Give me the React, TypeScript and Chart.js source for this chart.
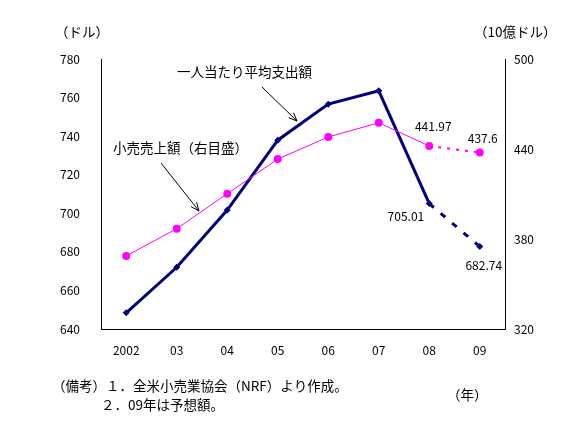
import React, { useEffect, useRef } from "react";
import { Chart, registerables } from "chart.js";

Chart.register(...registerables);

// Years on the x axis (2009 is a forecast)
const years = ["2002", "03", "04", "05", "06", "07", "08", "09"];
// Average spending per person (USD, left axis)
const perCapitaSpending = [648.4, 672.0, 701.7, 737.9, 756.6, 763.5, 705.01, 682.74];
// Retail sales (billion USD, right axis)
const retailSales = [368.7, 386.9, 410.2, 433.3, 448.0, 457.5, 441.97, 437.6];

const FONT = "'Noto Sans CJK JP', 'Noto Sans', sans-serif";
const NAVY = "#000080";
const MAGENTA = "#FF00FF";

function arrow(ctx: CanvasRenderingContext2D, x0: number, y0: number, x1: number, y1: number) {
  ctx.save();
  ctx.strokeStyle = "#000";
  ctx.lineWidth = 1;
  ctx.beginPath();
  ctx.moveTo(x0, y0);
  ctx.lineTo(x1, y1);
  const a = Math.atan2(y1 - y0, x1 - x0);
  const len = 9;
  ctx.moveTo(x1, y1);
  ctx.lineTo(x1 - len * Math.cos(a - 0.4), y1 - len * Math.sin(a - 0.4));
  ctx.moveTo(x1, y1);
  ctx.lineTo(x1 - len * Math.cos(a + 0.4), y1 - len * Math.sin(a + 0.4));
  ctx.stroke();
  ctx.restore();
}

const annotations = {
  id: "annotations",
  afterDraw(chart: any) {
    const ctx: CanvasRenderingContext2D = chart.ctx;
    const x = chart.scales.x;
    const yL = chart.scales.yL;
    const yR = chart.scales.yR;
    ctx.save();
    ctx.fillStyle = "#000";
    ctx.textBaseline = "middle";
    ctx.textAlign = "left";

    // axis units and series names
    ctx.font = `13.5px ${FONT}`;
    ctx.fillText("（ドル）", 55, 32);
    ctx.fillText("（10億ドル）", 474, 32);
    ctx.fillText("（年）", 447, 395);
    ctx.fillText("一人当たり平均支出額", 177, 72);
    ctx.fillText("小売売上額（右目盛）", 113, 148);
    arrow(ctx, 262, 87, 297, 121);
    arrow(ctx, 161, 163, 199, 211);

    // footnotes
    ctx.fillText("（備考）１．全米小売業協会（NRF）より作成。", 52, 386);
    ctx.fillText("２．09年は予想額。", 101, 405);

    // value labels on the last two points
    ctx.font = `12px ${FONT}`;
    const n = years.length;
    const lbl = (v: number) => String(v);
    ctx.textAlign = "center";
    ctx.fillText(lbl(retailSales[n - 2]), x.getPixelForValue(n - 2) + 4, yR.getPixelForValue(retailSales[n - 2]) - 20);
    ctx.fillText(lbl(retailSales[n - 1]), x.getPixelForValue(n - 1) + 3, yR.getPixelForValue(retailSales[n - 1]) - 14);
    ctx.textAlign = "right";
    ctx.fillText(lbl(perCapitaSpending[n - 2]), x.getPixelForValue(n - 2) - 5, yL.getPixelForValue(perCapitaSpending[n - 2]) + 13);
    ctx.textAlign = "center";
    ctx.fillText(lbl(perCapitaSpending[n - 1]), x.getPixelForValue(n - 1) + 4, yL.getPixelForValue(perCapitaSpending[n - 1]) + 19);
    ctx.restore();
  },
};

export default function App() {
  const ref = useRef<HTMLCanvasElement>(null);

  useEffect(() => {
    const lastSeg = (ctx: any) => ctx.p1DataIndex === years.length - 1;
    const chart = new Chart(ref.current!, {
      type: "line",
      data: {
        labels: years,
        datasets: [
          {
            label: "小売売上額（右目盛）",
            data: retailSales,
            yAxisID: "yR",
            borderColor: MAGENTA,
            backgroundColor: MAGENTA,
            borderWidth: 1,
            pointStyle: "circle",
            pointRadius: 4,
            pointBorderWidth: 0,
            segment: { borderDash: (c: any) => (lastSeg(c) ? [3, 6] : undefined), borderWidth: (c: any) => (lastSeg(c) ? 2 : undefined) } as any,
          },
          {
            label: "一人当たり平均支出額",
            data: perCapitaSpending,
            yAxisID: "yL",
            borderColor: NAVY,
            backgroundColor: NAVY,
            borderWidth: 3,
            pointStyle: "rectRot",
            pointRadius: 3.5,
            pointBorderWidth: 0,
            segment: { borderDash: (c: any) => (lastSeg(c) ? [6, 9] : undefined) } as any,
          },
        ],
      },
      options: {
        animation: false,
        responsive: false,
        events: [],
        layout: { padding: { top: 59, left: 0, right: 0, bottom: 0 } },
        plugins: { legend: { display: false }, tooltip: { enabled: false } },
        scales: {
          x: {
            type: "category",
            offset: true,
            grid: { display: false, drawTicks: false },
            border: { display: true, color: "#000", width: 1 },
            ticks: { color: "#000", font: { family: FONT, size: 12 }, padding: 14, maxRotation: 0 },
            afterFit: (s: any) => { s.height = 103; },
          },
          yL: {
            type: "linear",
            position: "left",
            min: 640,
            max: 780,
            grid: { display: false, drawTicks: false },
            border: { display: true, color: "#000", width: 1 },
            ticks: { stepSize: 20, color: "#000", font: { family: FONT, size: 12 }, padding: 21 },
            afterFit: (s: any) => { s.width = 101; },
          },
          yR: {
            type: "linear",
            position: "right",
            min: 320,
            max: 500,
            grid: { display: false, drawTicks: false },
            border: { display: true, color: "#000", width: 1 },
            ticks: { stepSize: 60, color: "#000", font: { family: FONT, size: 12 }, padding: 9 },
            afterFit: (s: any) => { s.width = 75; },
          },
        },
      },
      plugins: [annotations],
    });
    return () => chart.destroy();
  }, []);

  return (
    <div style={{ position: "fixed", left: 0, top: 0, width: 580, height: 432, background: "#fff" }}>
      <canvas ref={ref} width={580} height={432} style={{ width: 580, height: 432 }} />
    </div>
  );
}
